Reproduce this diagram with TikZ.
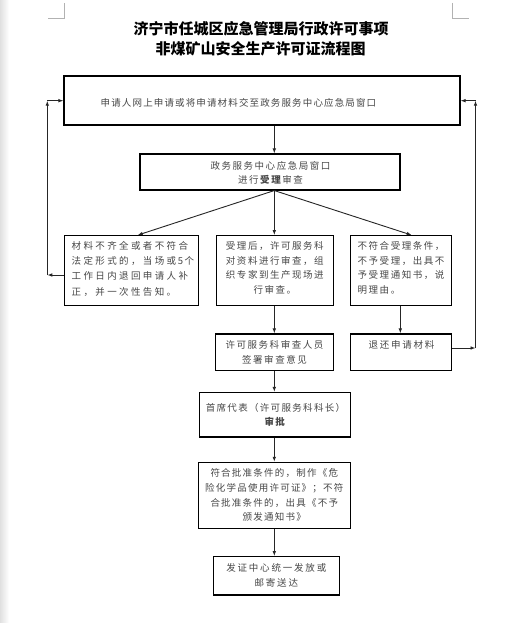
\documentclass[tikz,border=0pt]{standalone}
\usepackage{fontspec}
\setmainfont{Noto Sans CJK SC}
\usetikzlibrary{arrows.meta}
\newcommand{\lsp}[1]{\addfontfeatures{LetterSpace=#1}}
\newcommand{\fz}[2]{\fontsize{9.5}{#1}\selectfont\lsp{#2}}
\tikzset{
  box/.style={draw=black, line width=1.1pt, inner sep=0pt, fill=none},
  conn/.style={draw=black!85, line width=0.9pt, -{Latex[length=5pt,width=3.6pt]}},
  txt/.style={inner sep=0pt, text=black!72},
  ttl/.style={inner sep=0pt, text=black, font=\bfseries\fontsize{15}{15}\selectfont},
  crop/.style={draw=black!30, line width=0.7pt}
}
\begin{document}
\begin{tikzpicture}[x=1pt,y=-1pt]
\useasboundingbox (0,0) rectangle (532,623);
\fill[white] (0,0) rectangle (532,623);
\shade[left color=black!12, right color=white] (0,0) rectangle (9,623);
% crop marks
\draw[crop] (48.3,18.3) -- (64.3,18.3) -- (64.3,3);
\draw[crop] (452.3,3) -- (452.3,18.3) -- (468.7,18.3);
% title
\node[ttl] (t1) at (261,29) {济宁市任城区应急管理局行政许可事项};
\node[ttl] (t2) at (260.5,49) {非煤矿山安全生产许可证流程图};
% boxes
\node[box, minimum width=396, minimum height=49] (A) at (262,100.5) {};
\node[box, minimum width=260, minimum height=36] (B) at (270,172) {};
\node[box, minimum width=134, minimum height=69.5] (C) at (131.4,270.4) {};
\node[box, minimum width=117.5, minimum height=69.5] (D) at (274.8,270.4) {};
\node[box, minimum width=101, minimum height=69.5] (E) at (401,270.4) {};
\node[box, minimum width=118, minimum height=36.7] (F) at (274.5,352.3) {};
\node[box, minimum width=101, minimum height=36.7] (G) at (401,352.3) {};
\node[box, minimum width=151, minimum height=44.5] (H) at (274.9,414.7) {};
\node[box, minimum width=152, minimum height=66] (I) at (274.3,495.3) {};
\node[box, minimum width=126, minimum height=38.3] (J) at (276.3,575.8) {};
% texts
\node[txt, anchor=west, font=\fz{15}{12}] (ta) at (100.5,102.5) {申请人网上申请或将申请材料交至政务服务中心应急局窗口};
\node[txt, align=center, font=\fz{14.3}{16}] (tb) at (270.5,173.2) {政务服务中心应急局窗口\\进行\textbf{受理}审查};
\node[txt, anchor=west, align=left, font=\fz{15.3}{25}] (tc) at (71.5,268.7) {材料不齐全或者不符合\\法定形式的，当场或\,5\,个\\工作日内退回申请人补\\正，并一次性告知。};
\node[txt, align=center, font=\fz{14.7}{16}] (td) at (274.8,268) {受理后，许可服务科\\对资料进行审查，组\\织专家到生产现场进\\行审查。};
\node[txt, anchor=west, align=left, font=\fz{14.7}{16}] (te) at (357.5,268) {不符合受理条件，\\不予受理，出具不\\予受理通知书，说\\明理由。};
\node[txt, align=center, font=\fz{15.6}{16}] (tf) at (274.5,352.2) {许可服务科审查人员\\签署审查意见};
\node[txt, font=\fz{15}{18}] (tg) at (401.5,345) {退还申请材料};
\node[txt, align=center, font=\fz{14}{14}] (th) at (275.5,415.3) {首席代表（许可服务科科长）\\\textbf{审批}};
\node[txt, align=center, font=\fz{14.7}{13}] (ti) at (274.3,495.3) {符合批准条件的，制作《危\\险化学品使用许可证》；不符\\合批准条件的，出具《不予\\颁发通知书》};
\node[txt, align=center, font=\fz{15}{19}] (tj) at (276.3,575.2) {发证中心统一发放或\\邮寄送达};
% helper coordinates
\coordinate (ax) at (274.3,0);
\coordinate (cl) at (137.7,0);
\coordinate (er) at (411.7,0);
\coordinate (ex) at (400.3,0);
\coordinate (fl) at (47.3,0);
\coordinate (fr) at (475.5,0);
\coordinate (fy) at (0,100.7);
\coordinate (cy) at (0,275);
\coordinate (gy) at (0,348);
% connectors
\draw[conn] (A.south -| ax) -- (B.north -| ax);
\draw[conn] (B.south -| ax) -- (C.north -| cl);
\draw[conn] (B.south -| ax) -- (D.north -| ax);
\draw[conn] (B.south -| ax) -- (E.north -| er);
\draw[conn] (D.south -| ax) -- (F.north -| ax);
\draw[conn] (E.south -| ex) -- (G.north -| ex);
\draw[conn] (F.south -| ax) -- (H.north -| ax);
\draw[conn] (H.south -| ax) -- (I.north -| ax);
\draw[conn] (I.south -| ax) -- (J.north -| ax);
% left feedback
\draw[conn] (C.west |- cy) -- (fl |- cy);
\draw[conn] (fl |- cy) -- (fl |- fy);
\draw[conn] (fl |- fy) -- (A.west |- fy);
% right feedback
\draw[conn] (G.east |- gy) -- (fr |- gy);
\draw[conn] (fr |- gy) -- (fr |- fy);
\draw[conn] (fr |- fy) -- (A.east |- fy);
\end{tikzpicture}
\end{document}
